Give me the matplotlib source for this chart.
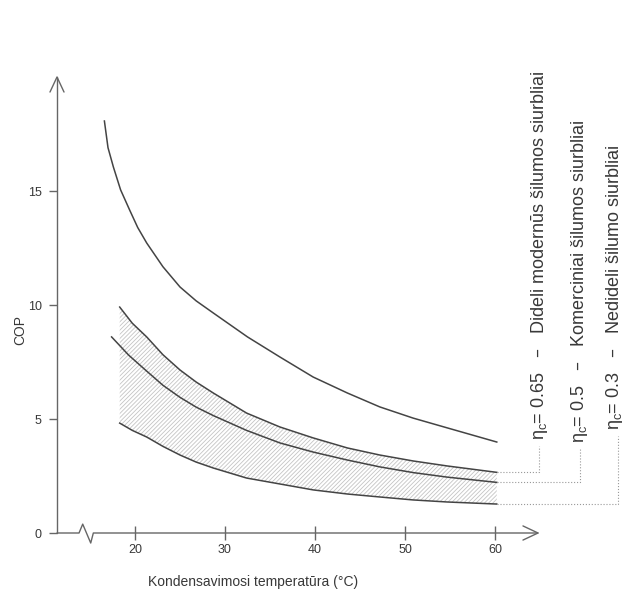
import matplotlib
matplotlib.use("Agg")
import matplotlib.pyplot as plt

plt.rcParams['font.family'] = ['Liberation Sans', 'DejaVu Sans']
plt.rcParams['hatch.linewidth'] = 0.6

# curve values (temperature in C, COP)
top_t = [16.6, 17.0, 17.6, 18.4, 19.4, 20.3, 21.3, 23.1, 25.0, 26.8, 28.7, 32.5, 36.1, 39.8,
         43.6, 47.2, 50.9, 54.7, 60.2]
top_cop = [18.07, 16.9, 16.05, 15.05, 14.17, 13.4, 12.72, 11.68, 10.79, 10.18, 9.65, 8.60, 7.72,
           6.84, 6.14, 5.53, 5.04, 4.61, 3.99]

band_t = [18.3, 19.7, 21.3, 23.1, 25.0, 26.8, 28.7, 32.4, 36.1, 39.8, 43.6, 47.2, 50.9, 54.7, 60.2]
cop_065 = [9.91, 9.20, 8.60, 7.82, 7.15, 6.62, 6.14, 5.26, 4.65, 4.17, 3.73, 3.42, 3.16, 2.94, 2.66]
cop_03 = [4.82, 4.50, 4.21, 3.80, 3.42, 3.11, 2.85, 2.41, 2.15, 1.89, 1.71, 1.58, 1.45, 1.36, 1.27]

mid_t = [17.4, 19.3, 21.3, 23.1, 25.0, 26.8, 28.7, 32.4, 36.1, 39.8, 43.6, 47.2, 50.9, 54.7, 60.2]
cop_05 = [8.60, 7.80, 7.10, 6.48, 5.95, 5.52, 5.15, 4.50, 3.95, 3.55, 3.20, 2.90, 2.65, 2.45, 2.22]

x_ticks = [20, 30, 40, 50, 60]
y_ticks = [0, 5, 10, 15]

labels = [r'η$_\mathregular{c}$= 0.65   –   Dideli modernūs šilumos siurbliai',
          r'η$_\mathregular{c}$= 0.5   –   Komerciniai šilumos siurbliai',
          r'η$_\mathregular{c}$= 0.3   –   Nedideli šilumo siurbliai']
label_x = [65.0, 69.4, 73.3]
line_x = [64.9, 69.4, 73.7]
label_top = [4.08, 3.95, 4.52]
curve_end = [cop_065[-1], cop_05[-1], cop_03[-1]]

axis_col = '#666666'
line_col = '#444444'
text_col = '#383838'

fig = plt.figure(figsize=(6.24, 5.92), dpi=100)
ax = fig.add_axes([57/624, (592-533)/592, (538-57)/624, (533-77)/592])
x0, x1 = 11.333, 64.78
ax.set_xlim(x0, x1)
ax.set_ylim(0, 20)
for s in ax.spines.values():
    s.set_visible(False)

# hatched band
ax.fill_between(band_t, cop_065, cop_03, facecolor='none', edgecolor='#c4c4c4',
                hatch='/' * 8, linewidth=0)

for t, c in [(top_t, top_cop), (band_t, cop_065), (mid_t, cop_05), (band_t, cop_03)]:
    ax.plot(t, c, color=line_col, lw=1.1, solid_joinstyle='round')

# axes drawn by hand: arrows and the break
kw = dict(color=axis_col, lw=1.0, clip_on=False, solid_capstyle='round')
ax.plot([x0, x0], [0, 20], **kw)
ax.plot([x0 - 0.78, x0, x0 + 0.78], [20 - 0.66, 20, 20 - 0.66], **kw)
ax.plot([x0, 13.78, 14.19, 15.08, 15.37, x1], [0, 0, 0.39, -0.44, 0, 0], **kw)
ax.plot([x1 - 1.67, x1, x1 - 1.67], [0.31, 0, -0.31], **kw)

ax.set_xticks(x_ticks)
ax.set_yticks(y_ticks)
ax.tick_params(axis='x', direction='inout', length=10, width=1, color=axis_col,
               labelsize=9, labelcolor=text_col, pad=3)
ax.tick_params(axis='y', direction='out', length=6, width=1, color=axis_col,
               labelsize=9, labelcolor=text_col, pad=5)

# dotted leaders and the rotated labels
for lx, vx, ly, ey, txt in zip(label_x, line_x, label_top, curve_end, labels):
    ax.plot([60.2, vx, vx], [ey, ey, ly - 0.25], color='#999999', lw=0.8, ls=':', clip_on=False)
    ax.text(lx, ly, txt, rotation=90, ha='center', va='bottom', fontsize=13,
            color=text_col, clip_on=False)

fig.text(20/624, 1 - 330/592, 'COP', rotation=90, ha='center', va='center',
         fontsize=10, color=text_col)
fig.text(253/624, 1 - 582/592, 'Kondensavimosi temperatūra (°C)', ha='center', va='center',
         fontsize=10, color=text_col)

fig.savefig('out.png', dpi=100)
